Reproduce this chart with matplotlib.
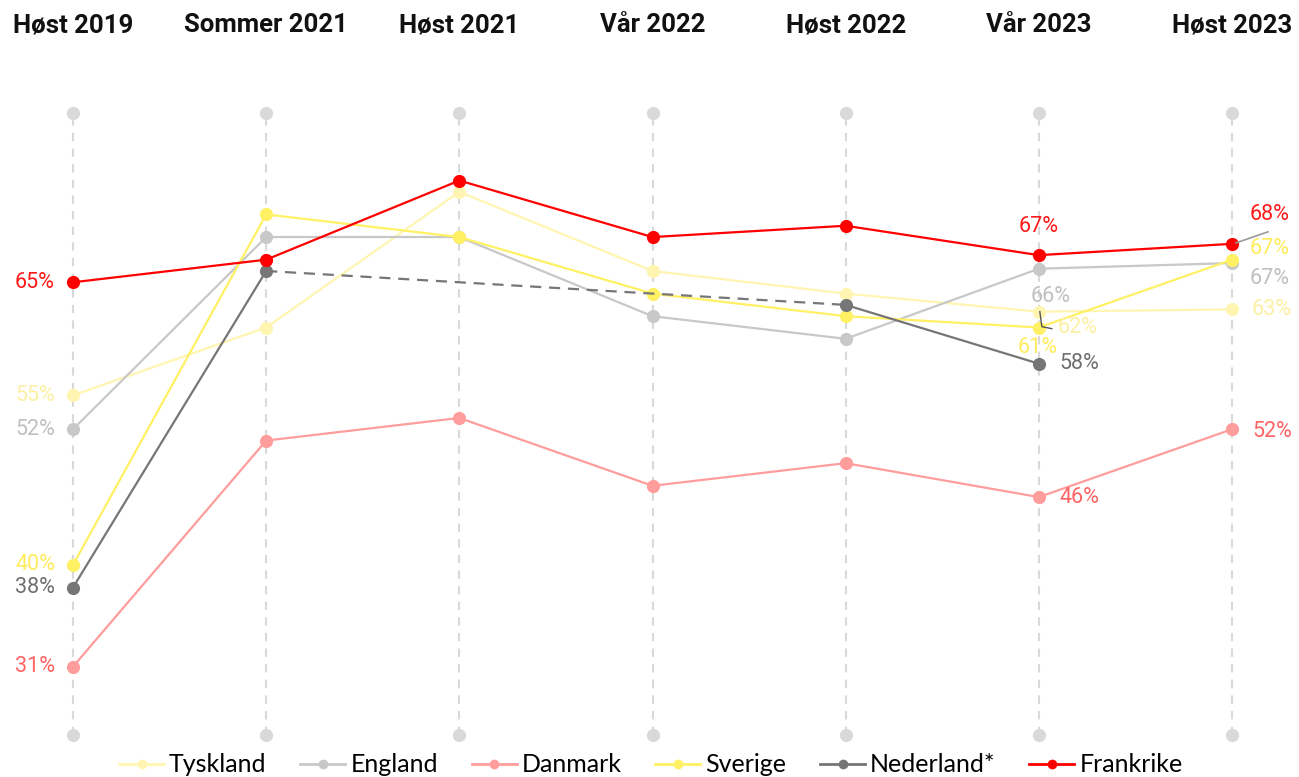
import matplotlib
matplotlib.use("Agg")
import matplotlib.pyplot as plt
from matplotlib.lines import Line2D
from matplotlib.transforms import offset_copy
import numpy as np

# ---------------- data ----------------
categories = ["Høst 2019", "Sommer 2021", "Høst 2021", "Vår 2022",
              "Høst 2022", "Vår 2023", "Høst 2023"]
series_names = ["Tyskland", "England", "Danmark", "Sverige", "Nederland*", "Frankrike"]
tyskland = [55, 61, 73, 66, 64, 62.4, 62.6]
england = [52, 69, 69, 62, 60, 66.2, 66.7]
danmark = [31, 51, 53, 47, 49, 46, 52]
sverige = [40, 71, 69, 64, 62, 61, 67]
nederland = [38, 66, None, None, 63, 57.8, None]
frankrike = [65, 67, 74, 69, 70, 67.4, 68.4]

# ---------------- styles ----------------
line_colors = {"Tyskland": "#fff5b1", "England": "#c8c8c8", "Danmark": "#ff9c9c",
               "Sverige": "#fff064", "Nederland*": "#767676", "Frankrike": "#ff0000"}
label_colors = {"Tyskland": "#fdf0a2", "England": "#c0c0c0", "Danmark": "#ff6464",
                "Sverige": "#ffec5c", "Nederland*": "#6e6e6e", "Frankrike": "#ff1a1a"}
values = {"Tyskland": tyskland, "England": england, "Danmark": danmark,
          "Sverige": sverige, "Nederland*": nederland, "Frankrike": frankrike}

# label placements: (index, dx px, dy px, ha)
label_pos = {
    "Tyskland": [(0, -18, 0, "right"), (5, 19, -16, "left"), (6, 20, 0, "left")],
    "England": [(0, -18, 0, "right"), (5, 12, -28, "center"), (6, 18, -15, "left")],
    "Danmark": [(0, -18, 0, "right"), (5, 21, 0, "left"), (6, 20, -2, "left")],
    "Sverige": [(0, -18, 0, "right"), (5, -1, -20, "center"), (6, 18, 11, "left")],
    "Nederland*": [(0, -18, 0, "right"), (5, 21, 0, "left")],
    "Frankrike": [(0, -18, 0, "right"), (5, 0, 29, "center"), (6, 18, 29, "left")],
}

W, H = 1299, 777
fig = plt.figure(figsize=(W / 100, H / 100), dpi=100)
y_top_px, y_bot_px = 112.7, 734.5
x_left_px, x_right_px = 73, 1232
ax = fig.add_axes([x_left_px / W, (H - y_bot_px) / H,
                   (x_right_px - x_left_px) / W, (y_bot_px - y_top_px) / H])
ymin, ymax = 25, 80
n = len(categories)
ax.set_xlim(0, n - 1)
ax.set_ylim(ymin, ymax)
ax.axis("off")

xs = np.arange(n)

# vertical guide lines with end dots
for i in xs:
    ax.plot([i, i], [ymin, ymax], color="#d9d9d9", lw=1.5, ls=(0, (4, 3.5)),
            zorder=0, clip_on=False)
ax.scatter(xs, [ymax] * n, s=90, color="#d9d9d9", zorder=0, clip_on=False, linewidths=0)
ax.scatter(xs, [ymin] * n, s=90, color="#d9d9d9", zorder=0, clip_on=False, linewidths=0)

# headers
for i, c in enumerate(categories):
    xf = (x_left_px + i * (x_right_px - x_left_px) / (n - 1)) / W
    fig.text(xf, 1 - 25 / H, c, ha="center", va="center", fontsize=18.5,
             fontweight="bold", family="Roboto", color="#111111")

# series
for z, name in enumerate(series_names):
    vals = values[name]
    col = line_colors[name]
    idx = [i for i, v in enumerate(vals) if v is not None]
    for a, b in zip(idx[:-1], idx[1:]):
        ls = "-" if b == a + 1 else (0, (5, 3.5))
        ax.plot([a, b], [vals[a], vals[b]], color=col, lw=1.6, ls=ls,
                zorder=2 + z, clip_on=False, solid_capstyle="round")
    ax.scatter([xs[i] for i in idx], [vals[i] for i in idx], s=90, color=col,
               zorder=2.5 + z, clip_on=False, linewidths=0)
    for (i, dx, dy, ha) in label_pos[name]:
        ax.annotate(f"{round(vals[i])}%", (xs[i], vals[i]), xytext=(dx, dy),
                    textcoords="offset pixels", ha=ha, va="center",
                    fontsize=15.5, family="Roboto", color=label_colors[name],
                    zorder=20, annotation_clip=False)

# leader lines
def leader(xi, yv, offs, color, lw):
    pts = []
    for dx, dy in offs:
        tr = offset_copy(ax.transData, fig=fig, x=dx, y=dy, units="dots")
        pts.append(tr.transform((xi, yv)))
    pts = np.array(pts)
    inv = ax.transData.inverted()
    d = inv.transform(pts)
    ax.plot(d[:, 0], d[:, 1], color=color, lw=lw, zorder=30, clip_on=False)

leader(5, tyskland[5], [(1, 0), (3, -15), (13, -17)], "#555555", 1.0)
leader(6, frankrike[6], [(4, 1), (36, 12)], "#999999", 1.2)

# legend
handles = [Line2D([0], [0], color=line_colors[nm], lw=2, marker="o", markersize=7,
                  markeredgewidth=0) for nm in series_names]
fig.legend(handles, series_names, loc="center", bbox_to_anchor=(0.501, 12 / H),
           ncol=6, frameon=False, prop={"family": "Lato", "size": 18},
           handlelength=1.8, handletextpad=0.2, columnspacing=1.35,
           borderaxespad=0, borderpad=0)

fig.savefig("out.png", dpi=100, facecolor="white")
